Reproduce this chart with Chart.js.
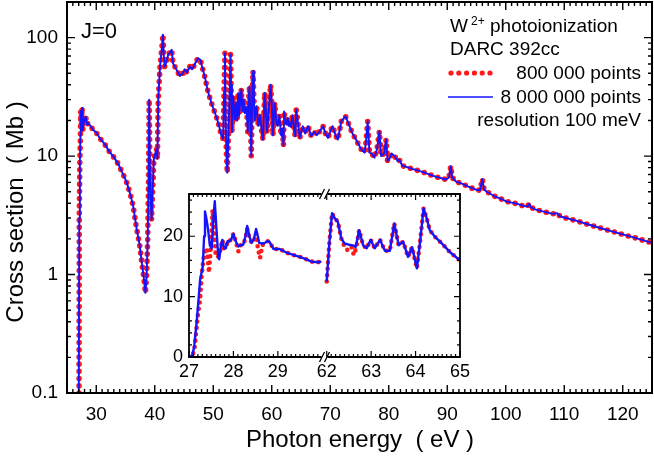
<!DOCTYPE html>
<html>
<head>
<meta charset="utf-8">
<script src="https://cdn.jsdelivr.net/npm/chart.js@4.4.3/dist/chart.umd.min.js"></script>
<style>
  html, body { margin: 0; padding: 0; background: #fff; }
  #wrap  { position: relative; width: 654px; height: 457px; }
  #main  { position: absolute; left: 0; top: 0; }
  #inset { position: absolute; left: 155px; top: 185px; }
</style>
</head>
<body>
<div id="wrap">
  <canvas id="main" width="654" height="457"></canvas>
  <canvas id="inset" width="315" height="205"></canvas>
</div>
<script>
(function () {
  "use strict";

  const FONT = "'Liberation Sans', Arial, Helvetica, sans-serif";

  /* ── Main panel: photon energy (eV) → cross section (Mb) ─────────────── */
  const MAIN_ENERGY = [
    27.0, 27.05, 27.1, 27.2, 27.3, 27.36, 27.45, 27.58, 27.68, 27.8, 28.0, 28.2, 28.4, 28.6, 29.0, 29.5,
    30.0, 30.6, 31.5, 32.3, 33.0, 33.75, 34.6, 35.2, 35.8, 36.3, 36.9, 37.4, 37.8, 38.15, 38.4, 38.6,
    38.8, 38.95, 39.05, 39.2, 39.45, 39.7, 39.85, 40.1, 40.3, 40.45, 40.6, 40.9, 41.2, 41.4, 41.55, 41.7,
    42.0, 42.3, 42.6, 42.9, 43.1, 43.6, 44.3, 44.8, 45.1, 45.5, 46.0, 46.4, 47.0, 47.4, 47.8, 48.0,
    48.5, 49.1, 49.8, 50.5, 51.0, 51.4, 51.7, 51.85, 52.0, 52.12, 52.25, 52.4, 52.6, 52.8, 52.95, 53.05,
    53.2, 53.4, 53.55, 53.7, 53.9, 54.1, 54.25, 54.4, 54.6, 54.8, 55.0, 55.2, 55.4, 55.7, 55.9, 56.05,
    56.2, 56.35, 56.5, 56.65, 56.8, 56.95, 57.1, 57.4, 57.7, 58.0, 58.3, 58.5, 58.65, 58.8, 59.0, 59.2,
    59.5, 59.8, 60.0, 60.2, 60.5, 60.8, 61.0, 61.3, 61.6, 61.8, 62.0, 62.12, 62.3, 62.5, 62.73, 62.9,
    63.0, 63.3, 63.52, 63.72, 63.83, 64.03, 64.18, 64.4, 64.8, 65.3, 65.7, 66.2, 66.75, 67.3, 67.7, 68.2,
    68.75, 69.2, 69.6, 70.0, 70.4, 70.9, 71.3, 71.9, 72.6, 73.3, 73.8, 74.4, 75.3, 75.85, 76.1, 76.4,
    76.7, 77.1, 77.55, 78.0, 78.4, 78.7, 79.2, 79.55, 79.8, 80.1, 80.5, 81.0, 81.5, 81.8, 82.3, 83.0,
    84.0, 85.2, 86.0, 86.9, 88.0, 89.0, 89.8, 90.3, 90.6, 90.85, 91.5, 92.5, 93.5, 94.9, 95.6, 96.0,
    96.3, 96.9, 98.0, 99.0, 100.0, 101.0, 102.0, 103.0, 103.7, 104.0, 104.3, 105.0, 106.0, 107.0, 108.0, 108.8,
    109.3, 110.0, 112.0, 115.0, 118.0, 120.0, 122.0, 125.0
  ];
  const MAIN_SIGMA = [
    0.05, 0.05, 3, 9, 15, 24, 18, 25.5, 16.5, 18.5, 20.3, 21.5, 18.5, 19, 18, 16.6,
    15.8, 14.2, 12.5, 10.8, 9.8, 8.6, 7.0, 6.0, 4.8, 3.8, 2.45, 1.8, 1.25, 0.92, 0.70, 0.95,
    2.0, 7, 30, 6, 2.9, 6, 9.4, 10.5, 11.4, 9.5, 30, 57, 80, 106, 70, 57,
    62, 72, 75, 79, 61, 55, 47.5, 50, 54, 51, 57, 54, 62, 67, 65, 59,
    48, 35, 27, 21.7, 18, 14.8, 14, 35, 74, 20, 10.7, 7.25, 15, 35, 72, 40,
    16, 32, 25, 20.4, 28, 20, 34, 22, 28, 36.5, 24, 30, 23, 26, 16, 30,
    38.8, 20, 10, 30, 52, 30, 20, 26.4, 18, 22, 16, 13.8, 22, 34.2, 24, 16,
    25, 40, 28, 15, 28, 19.1, 18, 22, 15, 17, 12.3, 23.8, 20, 18.5, 21, 18,
    19.4, 17.6, 22.1, 19.1, 16.6, 14.7, 24.6, 20.5, 14.3, 17.9, 15.5, 17.9, 14.8, 16, 15, 16.2,
    17.9, 15.5, 14.3, 16, 17.9, 15, 13.8, 19.7, 21.7, 17.9, 15.5, 13.8, 11.4, 10.7, 13, 19.7,
    10.7, 10.5, 9.7, 11.5, 16.2, 10, 10.5, 13.8, 9.1, 9.5, 10.5, 10, 9.1, 9.3, 8.3, 8.1,
    7.8, 7.5, 7.3, 7.0, 6.7, 6.5, 6.35, 6.6, 8.2, 6.6, 6.1, 5.85, 5.55, 5.2, 5.15, 6.4,
    5.2, 4.95, 4.6, 4.4, 4.16, 4.05, 3.95, 3.8, 3.75, 3.95, 3.7, 3.55, 3.45, 3.35, 3.25, 3.3,
    3.1, 3.03, 2.85, 2.57, 2.33, 2.18, 2.05, 1.85
  ];
  const MAIN_X_TICKS = [30, 40, 50, 60, 70, 80, 90, 100, 110, 120];
  const MAIN_Y_TICKS = [0.1, 1, 10, 100];

  /* ── Inset: threshold region (27–30 eV) and 62–65 eV ─────────────────── */
  const LO_ENERGY_8M = [
    27.0, 27.08, 27.12, 27.17, 27.22, 27.25, 27.31, 27.34, 27.36, 27.39, 27.43, 27.47, 27.51, 27.55, 27.58, 27.62,
    27.66, 27.68, 27.72, 27.75, 27.79, 27.83, 27.87, 27.9, 27.95, 28.0, 28.05, 28.11, 28.16, 28.22, 28.27, 28.31,
    28.36, 28.41, 28.46, 28.51, 28.55, 28.58, 28.65, 28.71, 28.76, 28.81, 28.9, 29.04, 29.19, 29.35, 29.49, 29.6,
    29.76, 29.9, 29.98
  ];
  const LO_SIGMA_8M = [
    0, 0.3, 2, 5.6, 10, 12.8, 15, 20, 24.1, 23, 21.1, 18.5, 18.0, 23, 25.8, 21,
    16.5, 16.2, 18.5, 19.4, 18.0, 18.0, 19.2, 19.1, 19.5, 20.4, 19.2, 18.3, 18.5, 18.6, 20, 21.7,
    20, 18.9, 19.5, 21.2, 20, 18.9, 18.8, 18.9, 19.2, 19.1, 17.9, 17.9, 17.3, 16.9, 16.6, 16.3,
    15.8, 15.7, 15.8
  ];
  const LO_ENERGY_800K = [
    27.0, 27.08, 27.13, 27.2, 27.25, 27.28, 27.32, 27.36, 27.4, 27.45, 27.49, 27.53, 27.56, 27.6, 27.65, 27.7,
    27.75, 27.79, 27.83, 27.87, 27.9, 27.95, 28.0, 28.05, 28.11, 28.16, 28.22, 28.27, 28.31, 28.36, 28.41, 28.46,
    28.51, 28.55, 28.6, 28.65, 28.71, 28.76, 28.81, 28.9, 29.04, 29.19, 29.35, 29.49, 29.6, 29.76, 29.9, 29.98
  ];
  const LO_SIGMA_800K = [
    0, 0.2, 1.7, 7, 9.5, 13, 16, 17.8, 18, 14, 18, 24.4, 21, 17, 16.5, 17.5,
    19.4, 18.0, 18.0, 19.2, 19.1, 19.5, 20.4, 19.2, 17.5, 18.5, 18.6, 19.6, 21.2, 19.7, 18.9, 19.2,
    20.5, 18.0, 16.4, 18.5, 18.9, 19.2, 19.1, 17.9, 17.9, 17.3, 16.9, 16.6, 16.3, 15.8, 15.7, 15.8
  ];
  const HI_ENERGY_8M = [
    62.0, 62.06, 62.12, 62.18, 62.25, 62.33, 62.4, 62.5, 62.59, 62.65, 62.73, 62.82, 62.9, 62.99, 63.08, 63.2,
    63.31, 63.42, 63.52, 63.62, 63.72, 63.83, 63.92, 64.03, 64.1, 64.18, 64.25, 64.32, 64.45, 64.55, 64.67, 64.77,
    64.9, 65.0
  ];
  const HI_SIGMA_8M = [
    12.5, 19, 23.8, 23, 22.4, 19.6, 18.8, 18.6, 18.5, 18.2, 21.0, 18.5, 18.0, 19.4, 18.0, 19.4,
    17.6, 17.6, 22.1, 18.5, 19.1, 16.6, 18.2, 14.7, 19, 24.6, 23, 21.0, 19.8, 19.1, 18.2, 17.4,
    16.6, 16.0
  ];
  const HI_ENERGY_800K = [
    62.0, 62.06, 62.12, 62.18, 62.25, 62.33, 62.4, 62.48, 62.56, 62.61, 62.67, 62.73, 62.82, 62.9, 62.99, 63.08,
    63.2, 63.31, 63.42, 63.52, 63.62, 63.72, 63.83, 63.92, 64.03, 64.1, 64.18, 64.25, 64.32, 64.45, 64.55, 64.67,
    64.77, 64.9, 65.0
  ];
  const HI_SIGMA_800K = [
    12.5, 19, 23.8, 23, 22.4, 19.6, 18.3, 17.6, 18.2, 16.9, 18.2, 21.0, 18.5, 18.0, 19.4, 18.0,
    19.4, 17.6, 17.6, 22.1, 18.5, 19.1, 16.6, 18.2, 14.7, 19, 24.6, 23, 21.0, 19.8, 19.1, 18.2,
    17.4, 16.6, 16.0
  ];
  const INSET_X_TICKS = [27, 28, 29, 62, 63, 64, 65];
  const INSET_Y_TICKS = [0, 10, 20];

  /* broken inset axis: 27–30 eV then 62–65 eV on one linear scale */
  const BREAK_SHIFT = 3.1;
  function insetX(e) { return e < 45 ? e - 27 : e - 62 + BREAK_SHIFT; }

  function pts(xs, ys, fx) {
    return xs.map((x, i) => ({ x: fx ? fx(x) : x, y: ys[i] }));
  }

  /* ── Styles ──────────────────────────────────────────────────────────── */
  const RED = "#ff1a1a";
  const BLUE = "#1414ff";

  function dotted(data, w, gap) {
    return {
      data, borderColor: RED, borderWidth: w, borderDash: [0, gap],
      borderCapStyle: "round", borderJoinStyle: "round",
      pointRadius: 0, tension: 0, order: 2,
    };
  }
  function solid(data, w) {
    return {
      data, borderColor: BLUE, borderWidth: w, borderJoinStyle: "round",
      pointRadius: 0, tension: 0, order: 1,
    };
  }

  // fixed axis boxes, no extra padding for half-labels
  function fixX(h) {
    return (s) => { s.height = h; s.paddingLeft = 0; s.paddingRight = 0; };
  }
  function fixY(w) {
    return (s) => { s.width = w; s.paddingTop = 0; s.paddingBottom = 0; };
  }

  /* ── Inward tick marks + frame ───────────────────────────────────────── */
  function xTick(ctx, a, px, len) {
    ctx.moveTo(px, a.bottom); ctx.lineTo(px, a.bottom - len);
    ctx.moveTo(px, a.top);    ctx.lineTo(px, a.top + len);
  }
  function yTick(ctx, a, py, len) {
    ctx.moveTo(a.left, py);  ctx.lineTo(a.left + len, py);
    ctx.moveTo(a.right, py); ctx.lineTo(a.right - len, py);
  }

  const mainDecor = {
    id: "mainDecor",
    afterDraw(chart) {
      const { ctx, chartArea: a, scales: { x, y } } = chart;
      ctx.save();
      ctx.strokeStyle = "#000";
      ctx.lineWidth = 1.4;
      ctx.beginPath();
      MAIN_X_TICKS.forEach((v) => xTick(ctx, a, x.getPixelForValue(v), 8));
      for (let v = 26; v < 125; v++) {
        if (v % 10) xTick(ctx, a, x.getPixelForValue(v), 4);
      }
      MAIN_Y_TICKS.forEach((v) => yTick(ctx, a, y.getPixelForValue(v), 8));
      MAIN_Y_TICKS.forEach((d) => {
        for (let m = 2; m <= 9; m++) {
          const v = m * d;
          if (v < 200) yTick(ctx, a, y.getPixelForValue(v), 4);
        }
      });
      ctx.stroke();

      ctx.lineWidth = 2;
      ctx.strokeRect(a.left, a.top, a.right - a.left, a.bottom - a.top);

      // labels
      ctx.fillStyle = "#000";
      ctx.textBaseline = "alphabetic";
      ctx.textAlign = "left";
      ctx.font = `22px ${FONT}`;
      ctx.fillText("J=0", 81, 38);

      ctx.font = `19px ${FONT}`;
      ctx.fillText("W", 450, 32);
      ctx.fillText("photoionization", 490, 32);
      ctx.fillText("DARC 392cc", 450, 55);
      ctx.font = `12px ${FONT}`;
      ctx.fillText("2+", 471, 25);

      ctx.font = `19px ${FONT}`;
      ctx.textAlign = "right";
      ctx.fillText("800 000 points", 641, 79);
      ctx.fillText("8 000 000 points", 641, 103);
      ctx.fillText("resolution 100 meV", 641, 126);

      // legend swatches
      ctx.fillStyle = RED;
      for (let i = 0; i < 6; i++) {
        ctx.beginPath();
        ctx.arc(451 + i * 7.8, 73, 2.6, 0, Math.PI * 2);
        ctx.fill();
      }
      ctx.strokeStyle = BLUE;
      ctx.lineWidth = 1.5;
      ctx.beginPath();
      ctx.moveTo(448, 97); ctx.lineTo(493, 97);
      ctx.stroke();

      // axis titles
      ctx.fillStyle = "#000";
      ctx.font = `24px ${FONT}`;
      ctx.textAlign = "center";
      ctx.fillText("Photon energy  ( eV )", 360, 447);
      ctx.save();
      ctx.translate(23, 212);
      ctx.rotate(-Math.PI / 2);
      ctx.fillText("Cross section  ( Mb )", 0, 0);
      ctx.restore();

      ctx.restore();
    },
  };

  const insetDecor = {
    id: "insetDecor",
    afterDraw(chart) {
      const { ctx, chartArea: a, scales: { x, y } } = chart;
      const bx = x.getPixelForValue((3 + BREAK_SHIFT) / 2);
      ctx.save();
      ctx.strokeStyle = "#000";
      ctx.lineWidth = 1.2;
      ctx.beginPath();
      INSET_X_TICKS.forEach((e) => xTick(ctx, a, x.getPixelForValue(insetX(e)), 6));
      for (let k = 1; k < 30; k++) {
        if (k % 10) {
          xTick(ctx, a, x.getPixelForValue(insetX(27 + k / 10)), 3);
          xTick(ctx, a, x.getPixelForValue(insetX(62 + k / 10)), 3);
        }
      }
      INSET_Y_TICKS.forEach((v) => yTick(ctx, a, y.getPixelForValue(v), 6));
      for (let v = 2; v < 27; v += 2) {
        if (v % 10) yTick(ctx, a, y.getPixelForValue(v), 3);
      }
      ctx.stroke();

      // frame with a gap at the break
      ctx.lineWidth = 1.8;
      ctx.beginPath();
      ctx.moveTo(bx - 3, a.top);    ctx.lineTo(a.left, a.top);
      ctx.lineTo(a.left, a.bottom); ctx.lineTo(bx - 3, a.bottom);
      ctx.moveTo(bx + 3, a.top);    ctx.lineTo(a.right, a.top);
      ctx.lineTo(a.right, a.bottom); ctx.lineTo(bx + 3, a.bottom);
      ctx.stroke();

      // "//" break marks
      ctx.lineWidth = 1.3;
      ctx.beginPath();
      [a.top, a.bottom].forEach((yy) => {
        [-2.5, 2.5].forEach((dx) => {
          ctx.moveTo(bx + dx - 2.5, yy + 5);
          ctx.lineTo(bx + dx + 2.5, yy - 5);
        });
      });
      ctx.stroke();
      ctx.restore();
    },
  };

  /* ── Main chart ──────────────────────────────────────────────────────── */
  const mainData = pts(MAIN_ENERGY, MAIN_SIGMA);

  new Chart(document.getElementById("main"), {
    type: "line",
    data: {
      datasets: [
        solid(mainData, 1.9),
        dotted(mainData, 5.6, 7.2),
      ],
    },
    options: {
      responsive: false,
      animation: false,
      devicePixelRatio: 1,
      layout: { padding: { top: 2, right: 2, left: 0, bottom: 0 } },
      plugins: { legend: { display: false }, tooltip: { enabled: false } },
      scales: {
        x: {
          type: "linear", min: 25, max: 125,
          grid: { display: false, drawTicks: false },
          border: { display: false },
          afterBuildTicks: (s) => { s.ticks = MAIN_X_TICKS.map((v) => ({ value: v })); },
          afterFit: fixX(64),
          ticks: {
            autoSkip: false, maxRotation: 0, padding: 10, color: "#000",
            font: { family: FONT, size: 19 },
            callback: (v) => String(v),
          },
        },
        y: {
          type: "logarithmic", min: 0.1, max: 200,
          grid: { display: false, drawTicks: false },
          border: { display: false },
          afterBuildTicks: (s) => { s.ticks = MAIN_Y_TICKS.map((v) => ({ value: v })); },
          afterFit: fixY(67),
          ticks: {
            autoSkip: false, padding: 9, color: "#000",
            font: { family: FONT, size: 19 },
            callback: (v) => String(v),
          },
        },
      },
    },
    plugins: [mainDecor],
  });

  /* ── Inset chart ─────────────────────────────────────────────────────── */
  new Chart(document.getElementById("inset"), {
    type: "line",
    data: {
      datasets: [
        solid(pts(LO_ENERGY_8M, LO_SIGMA_8M, insetX), 2.4),
        solid(pts(HI_ENERGY_8M, HI_SIGMA_8M, insetX), 2.4),
        dotted(pts(LO_ENERGY_800K, LO_SIGMA_800K, insetX), 4.6, 6.4),
        dotted(pts(HI_ENERGY_800K, HI_SIGMA_800K, insetX), 4.6, 6.4),
      ],
    },
    options: {
      responsive: false,
      animation: false,
      devicePixelRatio: 1,
      layout: { padding: { top: 9, right: 10, left: 0, bottom: 0 } },
      plugins: { legend: { display: false }, tooltip: { enabled: false } },
      scales: {
        x: {
          type: "linear", min: 0, max: 3 + BREAK_SHIFT,
          grid: { display: false, drawTicks: false },
          border: { display: false },
          afterBuildTicks: (s) => { s.ticks = INSET_X_TICKS.map((e) => ({ value: insetX(e) })); },
          afterFit: fixX(33),
          ticks: {
            autoSkip: false, maxRotation: 0, padding: 4, color: "#000",
            font: { family: FONT, size: 18 },
            callback: (v, i) => String(INSET_X_TICKS[i]),
          },
        },
        y: {
          type: "linear", min: 0, max: 27,
          grid: { display: false, drawTicks: false },
          border: { display: false },
          afterBuildTicks: (s) => { s.ticks = INSET_Y_TICKS.map((v) => ({ value: v })); },
          afterFit: fixY(34),
          ticks: {
            autoSkip: false, padding: 6, color: "#000",
            font: { family: FONT, size: 18 },
            callback: (v) => String(v),
          },
        },
      },
    },
    plugins: [insetDecor],
  });
})();
</script>
</body>
</html>
